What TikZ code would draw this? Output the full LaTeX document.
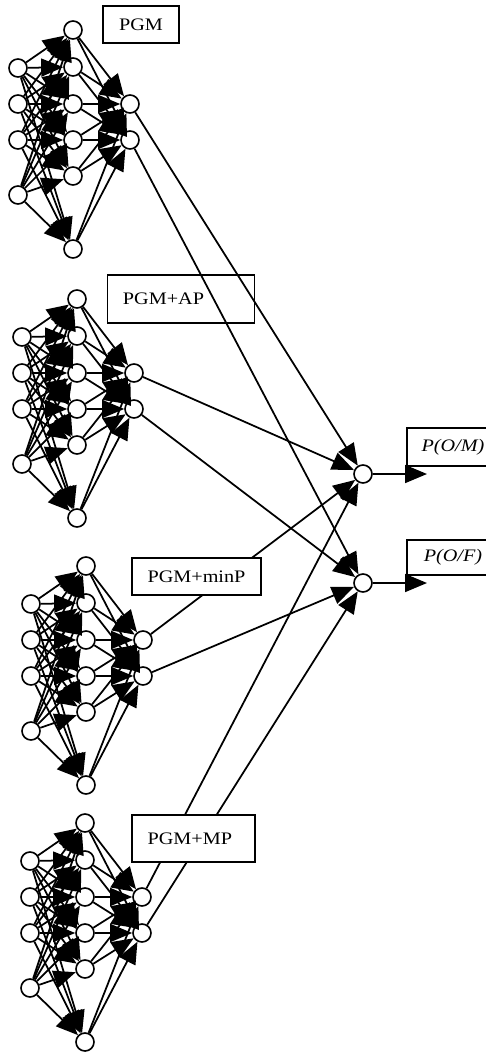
\documentclass[tikz,border=0pt]{standalone}
\usepackage{fontspec}
\setmainfont{Liberation Serif}[FakeStretch=1.15]
\usetikzlibrary{arrows.meta}

\begin{document}
\begin{tikzpicture}[
  x=0.03cm, y=-0.03cm,
  >={Triangle[length=0.66cm, width=0.54cm]},
  font=\fontsize{15}{17}\selectfont,
  neuron/.style={draw, line width=1.4pt, circle, fill=white, minimum size=0.54cm, inner sep=0pt},
  tagbox/.style={draw, line width=1.4pt, rectangle, fill=white, minimum height=1.11cm, align=center},
  leftbox/.style={tagbox, inner xsep=0.47cm, text width=#1, align=left},
  link/.style={->, line width=1.5pt}
]
\useasboundingbox (0,0) rectangle (486,1056);

% four networks: input (4), hidden (6), output (2)
\foreach \b/\x/\y in {1/18/104, 2/22/373, 3/31/640, 4/30/897} {
  \foreach \i/\dy in {1/-36, 2/0, 3/36, 4/91}
    \node[neuron] (b\b i\i) at (\x,\y+\dy) {};
  \foreach \h/\dy in {1/-74, 2/-37, 3/0, 4/36, 5/72, 6/145}
    \node[neuron] (b\b h\h) at (\x+55,\y+\dy) {};
  \node[neuron] (b\b o1) at (\x+112,\y) {};
  \node[neuron] (b\b o2) at (\x+112,\y+36) {};
}

\node[tagbox, minimum width=2.28cm] (pgm) at (141,24.5) {PGM};
\node[leftbox=3.48cm, minimum height=1.44cm] (pgmap) at (181,299) {PGM+AP};

% combining neurons
\node[neuron] (pom) at (363,474) {};
\node[neuron] (pof) at (363,583) {};
\coordinate (omend) at (427,474);
\coordinate (ofend) at (427,583);

\foreach \b in {1,...,4} {
  \foreach \i in {1,...,4}
    \foreach \h in {1,...,6}
      \draw[link] (b\b i\i) -- (b\b h\h);
  \foreach \h in {1,...,6} {
    \draw[link] (b\b h\h) -- (b\b o1);
    \draw[link] (b\b h\h) -- (b\b o2);
  }
  \draw[link] (b\b o1) -- (pom);
  \draw[link] (b\b o2) -- (pof);
}

\draw[link] (pom) -- (omend);
\draw[link] (pof) -- (ofend);

\node[tagbox, minimum width=3.87cm] (pgmminp) at (196.5,576.5) {PGM+minP};
\node[leftbox=2.75cm, minimum height=1.41cm] (pgmmp) at (193.5,838.5) {PGM+MP};

\node[tagbox, minimum width=2.76cm, minimum height=1.14cm] (outm) at (453,447) {\itshape P(O/M)};
\node[tagbox, minimum width=2.76cm, minimum height=1.05cm] (outf) at (453,557.5) {\itshape P(O/F)};
\end{tikzpicture}
\end{document}
